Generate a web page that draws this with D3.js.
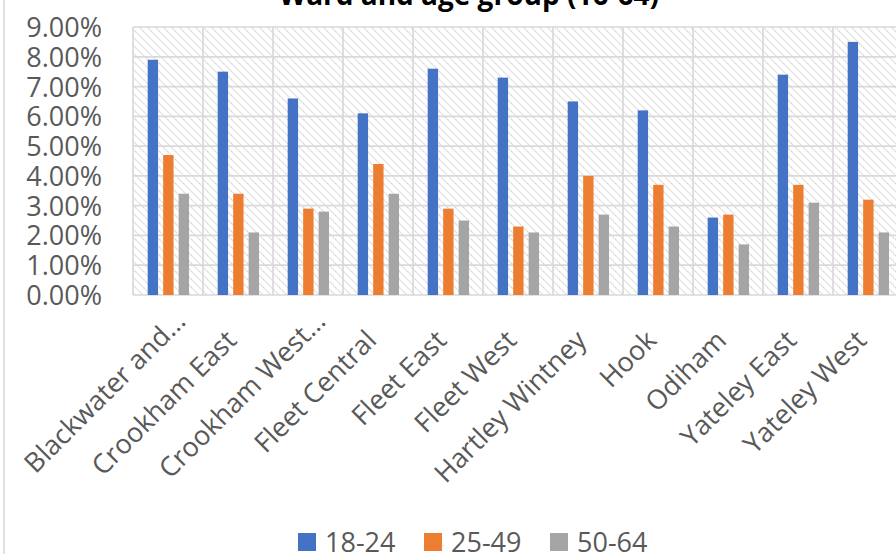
<!DOCTYPE html>
<html>
<head>
<meta charset="utf-8">
<script src="https://cdn.jsdelivr.net/npm/d3@7"></script>
<style>
  body { margin: 0; background: #fff; }
  text { font-family: "Open Sans", sans-serif; fill: #595959; }
</style>
</head>
<body>
<div id="chart"></div>
<script>
// ward names as shown on the axis (two are truncated in the original)
var wards = ["Blackwater and…", "Crookham East", "Crookham West…", "Fleet Central",
  "Fleet East", "Fleet West", "Hartley Wintney", "Hook", "Odiham", "Yateley East", "Yateley West"];
var groups = ["18-24", "25-49", "50-64"];
var age18to24 = [0.079, 0.075, 0.066, 0.061, 0.076, 0.073, 0.065, 0.062, 0.026, 0.074, 0.085];
var age25to49 = [0.047, 0.034, 0.029, 0.044, 0.029, 0.023, 0.040, 0.037, 0.027, 0.037, 0.032];
var age50to64 = [0.034, 0.021, 0.028, 0.034, 0.025, 0.021, 0.027, 0.023, 0.017, 0.031, 0.021];
var yTicks = [0, 0.01, 0.02, 0.03, 0.04, 0.05, 0.06, 0.07, 0.08, 0.09];
var colors = ["#4472C4", "#ED7D31", "#A5A5A5"];

var w = 896, h = 554;
var plot = {left: 133, right: 903, top: 27, bottom: 295};

var series = [age18to24, age25to49, age50to64];
var data = wards.map(function(name, i) {
  return {name: name, values: groups.map(function(g, j) { return {group: g, value: series[j][i]}; })};
});

var svg = d3.select("#chart").append("svg")
  .attr("width", w)
  .attr("height", h);

// hatch pattern for the plot area
var defs = svg.append("defs");
var pat = defs.append("pattern")
  .attr("id", "hatch")
  .attr("patternUnits", "userSpaceOnUse")
  .attr("width", 8).attr("height", 8);
pat.append("rect").attr("width", 8).attr("height", 8).attr("fill", "#fff");
pat.append("path")
  .attr("d", "M-2,-2 L10,10 M-2,6 L2,10 M6,-2 L10,2")
  .attr("stroke", "#d9d9d9")
  .attr("stroke-width", 1.5)
  .attr("stroke-dasharray", "1.5,1");

// chart area border (left edge visible)
svg.append("line")
  .attr("x1", 4).attr("x2", 4).attr("y1", 0).attr("y2", h)
  .attr("stroke", "#d9d9d9").attr("stroke-width", 1.5);

var x0 = d3.scaleBand().domain(wards).range([plot.left, plot.right]).padding(0);
var x1 = d3.scaleBand().domain(groups).range([14.7, 56]).paddingInner(0.33);
var y = d3.scaleLinear().domain([0, 0.09]).range([plot.bottom, plot.top]);
var color = d3.scaleOrdinal().domain(groups).range(colors);

svg.append("rect")
  .attr("x", plot.left).attr("y", plot.top)
  .attr("width", plot.right - plot.left).attr("height", plot.bottom - plot.top)
  .attr("fill", "url(#hatch)");

// horizontal gridlines
svg.append("g")
  .selectAll("line")
  .data(yTicks)
  .enter()
  .append("line")
  .attr("x1", plot.left).attr("x2", plot.right)
  .attr("y1", function(d) { return y(d); })
  .attr("y2", function(d) { return y(d); })
  .attr("stroke", "#d9d9d9")
  .attr("stroke-width", 1.7);

// vertical gridlines at category edges
var edges = wards.map(function(d) { return x0(d); }).concat([plot.right]);
svg.append("g")
  .selectAll("line")
  .data(edges)
  .enter()
  .append("line")
  .attr("x1", function(d) { return d; }).attr("x2", function(d) { return d; })
  .attr("y1", plot.top).attr("y2", plot.bottom)
  .attr("stroke", "#d9d9d9")
  .attr("stroke-width", 1.7);

// bars
svg.append("g")
  .selectAll("g")
  .data(data)
  .enter()
  .append("g")
  .attr("transform", function(d) { return "translate(" + x0(d.name) + ",0)"; })
  .selectAll("rect")
  .data(function(d) { return d.values; })
  .enter()
  .append("rect")
  .attr("x", function(d) { return x1(d.group); })
  .attr("width", x1.bandwidth())
  .attr("y", function(d) { return y(d.value); })
  .attr("height", function(d) { return plot.bottom - y(d.value); })
  .attr("fill", function(d) { return color(d.group); });

// y axis labels
var yAxis = d3.axisLeft(y).tickValues(yTicks).tickFormat(d3.format(".2%")).tickSize(0).tickPadding(0);
var yg = svg.append("g")
  .attr("transform", "translate(102,0)")
  .call(yAxis);
yg.select(".domain").remove();
yg.selectAll("text")
  .attr("font-size", "27px")
  .attr("font-family", "Open Sans, sans-serif")
  .attr("fill", "#595959")
  .attr("dy", "0.35em");

// x axis labels, rotated
svg.append("g")
  .selectAll("text")
  .data(wards)
  .enter()
  .append("text")
  .attr("transform", function(d) { return "translate(" + (x0(d) + x0.bandwidth() / 2) + ",342) rotate(-45)"; })
  .attr("dx", function(d) { return d.slice(-1) === "…" ? 27 : 0; })
  .style("text-anchor", "end")
  .attr("font-size", "27px")
  .text(function(d) { return d; });

// title
svg.append("text")
  .attr("x", 469)
  .attr("y", 5)
  .style("text-anchor", "middle")
  .attr("font-size", "28px")
  .attr("font-weight", "bold")
  .style("fill", "#000")
  .text("Ward and age group (16-64)");

// legend
var legendX = [298, 424, 550];
var legend = svg.append("g")
  .selectAll("g")
  .data(groups)
  .enter()
  .append("g")
  .attr("transform", function(d, i) { return "translate(" + legendX[i] + ",533)"; });
legend.append("rect")
  .attr("width", 18).attr("height", 18)
  .attr("fill", function(d) { return color(d); });
legend.append("text")
  .attr("x", 27).attr("y", 19)
  .attr("font-size", "27px")
  .text(function(d) { return d; });
</script>
</body>
</html>
